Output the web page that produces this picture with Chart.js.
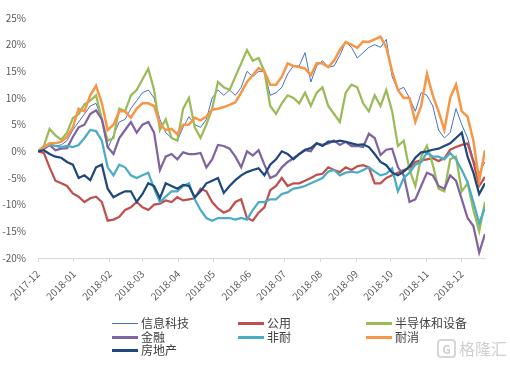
<!DOCTYPE html>
<html lang="zh">
<head>
<meta charset="UTF-8">
<title>2018 行业指数走势</title>
<script src="https://cdn.jsdelivr.net/npm/chart.js@4.4.1/dist/chart.umd.min.js"></script>
<style>
  body { margin: 0; background: #fff; }
  .wrap { position: relative; width: 510px; height: 368px; }
  #chart { position: absolute; left: 0; top: 0; }
  .legend { position: absolute; left: 0; top: 0; font: 12px "Noto Sans CJK SC", sans-serif; color: #404040; }
  .item { position: absolute; white-space: nowrap; line-height: 14px; height: 14px; }
  .item i { display: inline-block; width: 26px; vertical-align: middle; margin-right: 3px; position: relative; top: -1px; }
  .mark { position: absolute; left: 437px; top: 336px; color: #d0d0d0; font: 16px "Noto Sans CJK SC", sans-serif; white-space: nowrap; }
  .mark b { display: inline-block; width: 15px; height: 15px; line-height: 15px; border: 2px solid #d6d6d6; border-radius: 4px; text-align: center; font-size: 12px; margin-right: 3px; vertical-align: 1px; }
</style>
</head>
<body>
<div class="wrap">
  <canvas id="chart" width="510" height="368"></canvas>
  <div class="legend" id="legend"></div>
  <div class="mark"><b>G</b>格隆汇</div>
</div>

<script>
// x axis: days counted from 2017-12-01, one sample every 5 days
const sampleStep = 5;
const monthStartDays = [0, 31, 62, 90, 121, 151, 182, 212, 243, 274, 304, 335, 365];
const monthLabels = ['2017-12', '2018-01', '2018-02', '2018-03', '2018-04', '2018-05', '2018-06',
                     '2018-07', '2018-08', '2018-09', '2018-10', '2018-11', '2018-12'];

const seriesNames = ['信息科技', '公用', '半导体和设备', '金融', '非耐', '耐消', '房地产'];

// cumulative returns, %
const itValues = [0,0.5,1.5,1.0,1.2,2.0,4.0,5.5,7.0,8.5, 9.0,6.0,0.5,3.0,5.5,6.0,8.0,9.5,11.0,11.5,
  10.0,6.0,3.5,2.5,2.0,4.5,6.5,5.0,4.5,6.0, 10.0,11.5,10.5,11.5,10.5,12.0,15.0,14.0,15.0,15.0,
  10.5,11.0,12.0,14.5,16.0,16.0,18.5,13.0,16.0,17.0, 15.8,16.0,18.0,20.5,19.5,17.5,18.5,19.5,20.0,19.5,
  21.0,14.0,11.5,12.0,10.0,7.5,11.0,10.5,8.5,4.0, 2.5,3.5,8.0,5.0,2.5,-1.5,-4.0,-2.0];
const utilValues = [0,-0.3,-3.0,-5.5,-6.0,-6.5,-7.9,-8.5,-9.5,-8.8, -8.5,-9.5,-13.0,-12.8,-12.3,-11.0,-10.5,-9.5,-10.5,-11.0,
  -10.0,-9.8,-9.2,-9.5,-8.6,-9.2,-9.0,-8.8,-7.0,-7.5, -9.5,-10.7,-11.5,-11.0,-9.5,-9.0,-12.5,-13.0,-11.5,-10.5,
  -7.3,-6.5,-5.0,-6.5,-6.0,-6.0,-5.5,-5.0,-4.4,-4.2, -3.0,-3.5,-3.9,-3.0,-3.5,-2.8,-2.6,-3.0,-6.0,-6.0,
  -5.0,-4.5,-4.0,-3.5,-3.2,-2.0,-1.7,-1.5,-1.3,-1.8, -1.3,0.3,0.8,1.2,1.5,-2.0,-6.5,-4.8];
const semiValues = [0,1.0,4.2,3.0,2.2,3.5,6.2,7.0,8.8,9.5, 10.5,6.0,2.0,2.5,8.0,7.5,10.5,11.5,13.5,15.5,
  11.5,4.0,6.0,2.5,2.0,8.0,10.0,4.5,2.5,5.0, 8.0,13.0,12.0,11.5,14.0,16.5,19.0,17.0,17.5,15.0,
  8.5,7.0,9.0,10.5,10.0,9.0,11.0,8.5,11.0,12.0, 8.5,7.0,5.5,11.0,12.5,12.0,9.0,7.5,10.5,8.5,
  11.5,7.5,1.0,2.0,-3.5,-6.5,-1.0,1.0,-2.5,-7.0, -7.5,-1.5,-1.0,-7.5,-6.0,-11.0,-15.0,-9.5];
const finValues = [0,0.5,1.2,0.2,0.5,0.6,2.7,4.5,5.0,7.0, 7.7,6.0,0.8,-0.5,2.5,4.0,5.5,3.5,5.0,5.5,
  3.5,-3.5,-1.0,-0.5,-1.5,-0.2,-0.5,-0.5,-0.3,-3.0, -1.5,1.2,1.0,0.5,-1.0,-3.0,0.0,-0.8,0.2,-2.5,
  -5.0,-4.5,-3.0,-2.0,-1.3,-0.5,0.2,0.0,1.5,1.2, 1.5,2.0,1.2,1.8,1.0,1.0,0.8,3.3,2.5,-0.7,
  0.3,0.5,-3.0,-4.5,-9.5,-9.0,-6.5,-4.0,-4.5,-6.5, -7.0,-4.5,-5.5,-9.0,-12.5,-14.0,-19.0,-15.5];
const staplesValues = [0,0.8,1.2,1.0,0.8,1.0,0.8,1.2,2.5,4.0, 3.8,2.0,-3.0,-4.5,-2.5,-3.0,-4.5,-5.0,-4.5,-4.0,
  -7.0,-9.5,-8.5,-7.5,-7.5,-6.5,-6.0,-9.0,-11.0,-12.5, -13.0,-12.5,-12.5,-12.5,-12.8,-12.5,-12.8,-11.0,-9.5,-9.5,
  -9.0,-9.0,-8.0,-7.7,-7.0,-6.8,-6.5,-6.0,-5.5,-5.0, -3.8,-3.5,-4.5,-4.0,-3.8,-4.0,-3.5,-3.0,-3.8,-4.5,
  -4.2,-3.2,-7.5,-5.0,-4.0,-2.5,-2.0,-0.2,-1.0,-1.0, -1.5,-0.3,-1.5,-3.5,-5.8,-9.5,-13.5,-10.5];
const durablesValues = [0,0.8,1.5,1.5,1.8,2.7,4.5,8.0,7.5,10.5, 12.3,9.0,4.0,5.0,7.5,7.5,6.3,8.0,9.0,9.0,
  8.5,5.0,4.0,4.2,3.2,5.0,5.0,6.3,5.8,6.5, 7.8,8.0,8.3,8.7,9.2,11.0,13.0,14.3,15.6,15.0,
  12.5,12.5,14.0,16.5,16.0,15.8,15.5,14.3,16.5,16.5, 15.8,17.0,19.0,20.5,20.0,19.4,20.6,20.5,21.0,21.5,
  19.5,15.0,11.5,10.0,10.0,5.5,8.5,14.5,10.5,7.5, 4.0,10.0,12.5,7.5,6.5,2.0,-5.5,0.2];
const realEstateValues = [0,0.2,-0.5,-1.0,-1.2,-2.0,-2.5,-5.0,-4.5,-5.4, -3.0,-2.5,-7.0,-8.6,-8.0,-7.5,-7.5,-9.5,-8.0,-6.0,
  -6.5,-8.8,-6.0,-6.5,-7.0,-6.3,-6.5,-8.6,-7.5,-6.0, -5.5,-5.0,-7.8,-6.5,-5.4,-4.5,-3.9,-3.5,-3.2,-4.5,
  -2.5,-1.5,0.0,-0.5,-1.5,-0.5,0.3,0.6,1.5,1.0, 1.8,1.8,2.0,1.8,1.5,1.2,1.3,0.8,-0.5,-2.0,
  -2.6,-4.0,-4.5,-3.8,-2.8,-1.2,-0.2,0.0,0.3,0.5, 1.0,1.5,2.5,3.5,-1.0,-4.0,-8.0,-6.0];

const allValues = [itValues, utilValues, semiValues, finValues, staplesValues, durablesValues, realEstateValues];
const colors = ['#4472C4', '#C0504D', '#9BBB59', '#8064A2', '#4BACC6', '#F79646', '#1F497D'];
const widths = [1, 2.25, 2.25, 2.25, 2.25, 2.5, 2.25];

const datasets = seriesNames.map((name, k) => ({
    label: name,
    data: allValues[k].map((v, i) => ({ x: i * sampleStep, y: v })),
    borderColor: colors[k],
    backgroundColor: colors[k],
    borderWidth: widths[k],
    pointRadius: 0,
    tension: 0,
    order: -k   // later series drawn on top, like the original
}));

const tickFont = { family: '"Noto Sans CJK SC", sans-serif', size: 10 };

new Chart(document.getElementById('chart'), {
    type: 'line',
    data: { datasets },
    options: {
        responsive: false,
        animation: false,
        events: [],
        layout: { padding: { top: 17, right: 25, bottom: 0, left: 0 } },
        plugins: { legend: { display: false }, tooltip: { enabled: false } },
        scales: {
            x: {
                type: 'linear',
                min: 0,
                max: 385,
                afterBuildTicks: axis => { axis.ticks = monthStartDays.map(v => ({ value: v })); },
                afterFit: axis => { axis.height = 110; },
                grid: { display: true, drawOnChartArea: false, drawTicks: true, tickLength: 4, color: '#d9d9d9' },
                border: { display: true, color: '#d9d9d9' },
                ticks: {
                    autoSkip: false,
                    minRotation: 45,
                    maxRotation: 45,
                    padding: 6,
                    color: '#595959',
                    font: tickFont,
                    callback: (v, i) => monthLabels[i]
                }
            },
            y: {
                min: -20,
                max: 25,
                afterFit: axis => { axis.width = 38; },
                grid: { display: false, drawTicks: false },
                border: { display: false },
                ticks: {
                    stepSize: 5,
                    padding: 12,
                    color: '#595959',
                    font: tickFont,
                    callback: v => v + '%'
                }
            }
        }
    }
});

// legend in three columns like the original
const legend = document.getElementById('legend');
const colLeft = [112, 238, 366];
seriesNames.forEach((name, k) => {
    const item = document.createElement('div');
    item.className = 'item';
    item.style.left = colLeft[k % 3] + 'px';
    item.style.top = (316 + Math.floor(k / 3) * 13.5) + 'px';
    const line = document.createElement('i');
    line.style.height = (k === 0 ? 1 : 3) + 'px';
    line.style.background = colors[k];
    item.appendChild(line);
    item.appendChild(document.createTextNode(name));
    legend.appendChild(item);
});
</script>
</body>
</html>
